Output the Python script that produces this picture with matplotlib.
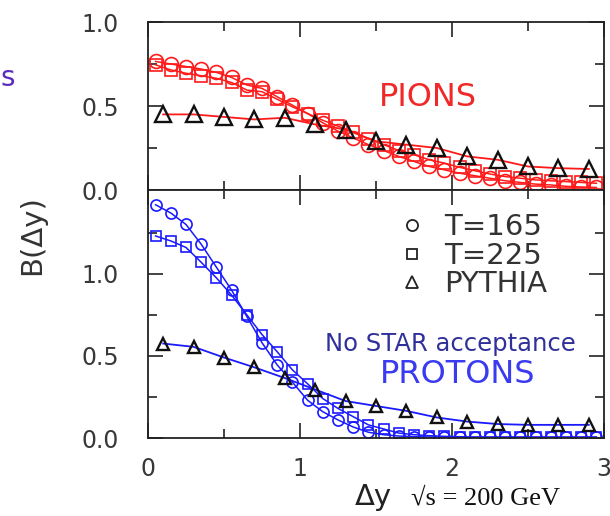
import matplotlib
matplotlib.use("Agg")
import matplotlib.pyplot as plt
from matplotlib.lines import Line2D
from matplotlib.ticker import MultipleLocator, FixedLocator

# x positions of the model points (T=165, T=225) and of the PYTHIA points
dy_fine = [0.05, 0.15, 0.25, 0.35, 0.45, 0.55, 0.65, 0.75, 0.85, 0.95,
           1.05, 1.15, 1.25, 1.35, 1.45, 1.55, 1.65, 1.75, 1.85, 1.95,
           2.05, 2.15, 2.25, 2.35, 2.45, 2.55, 2.65, 2.75, 2.85, 2.95]
dy_pythia = [0.1, 0.3, 0.5, 0.7, 0.9, 1.1, 1.3, 1.5, 1.7, 1.9,
             2.1, 2.3, 2.5, 2.7, 2.9]

# pions
pion_t165 = [0.765, 0.75, 0.735, 0.72, 0.70, 0.67, 0.625, 0.605, 0.555, 0.505,
             0.455, 0.40, 0.35, 0.31, 0.27, 0.235, 0.20, 0.17, 0.14, 0.12,
             0.10, 0.085, 0.07, 0.055, 0.045, 0.035, 0.03, 0.022, 0.018, 0.015]
pion_t225 = [0.745, 0.715, 0.695, 0.68, 0.665, 0.64, 0.595, 0.585, 0.54, 0.495,
             0.455, 0.415, 0.38, 0.345, 0.305, 0.27, 0.235, 0.21, 0.18, 0.16,
             0.135, 0.115, 0.095, 0.08, 0.07, 0.06, 0.055, 0.05, 0.045, 0.04]
pion_pythia = [0.45, 0.45, 0.435, 0.42, 0.43, 0.39, 0.36, 0.29, 0.27, 0.25,
               0.20, 0.18, 0.14, 0.13, 0.125]

# protons
proton_t165 = [1.42, 1.37, 1.30, 1.18, 1.04, 0.90, 0.74, 0.58, 0.445, 0.34,
               0.23, 0.16, 0.11, 0.067, 0.035, 0.02, 0.012, 0.008, 0.006, 0.005,
               0.004, 0.004, 0.004, 0.004, 0.004, 0.004, 0.004, 0.004, 0.004, 0.004]
proton_t225 = [1.23, 1.20, 1.16, 1.07, 0.975, 0.87, 0.75, 0.63, 0.525, 0.415,
               0.33, 0.24, 0.18, 0.13, 0.08, 0.055, 0.03, 0.02, 0.014, 0.01,
               0.008, 0.006, 0.006, 0.006, 0.006, 0.006, 0.006, 0.006, 0.006, 0.006]
proton_pythia = [0.575, 0.555, 0.49, 0.43, 0.365, 0.295, 0.225, 0.195, 0.165, 0.125,
                 0.10, 0.085, 0.08, 0.08, 0.08]

legend_labels = ["T=165", "T=225", "PYTHIA"]

RED = "#ff1a1a"
BLUE = "#1a1aff"
TICKCOL = "#383838"

plt.rcParams['font.family'] = ['DejaVu Sans']


def style_axis(ax, ymax, show_xlabels):
    ax.set_xlim(0, 3)
    ax.set_ylim(0, ymax)
    ax.xaxis.set_major_locator(MultipleLocator(1))
    ax.xaxis.set_minor_locator(MultipleLocator(0.5))
    ax.yaxis.set_major_locator(FixedLocator([0.0, 0.5, 1.0]))
    ax.yaxis.set_minor_locator(FixedLocator([0.25, 0.75, 1.25]))
    ax.tick_params(which='both', direction='in', top=True, right=True,
                   width=1.2, colors='#222222', labelcolor=TICKCOL, labelsize=17)
    ax.tick_params(which='major', length=11)
    ax.tick_params(which='minor', length=6.5)
    ax.tick_params(axis='y', pad=21)
    ax.tick_params(axis='x', pad=14)
    ax.yaxis.set_major_formatter(lambda v, p: "%.1f" % v)
    if not show_xlabels:
        ax.tick_params(axis='x', labelbottom=False)
    for s in ax.spines.values():
        s.set_linewidth(1.3)
        s.set_color('#222222')


def draw_species(ax, c, t165, t225, pyth, ms, tms):
    ax.plot(dy_fine, t165, '-', color=c, lw=1.1, marker='o', ms=ms,
            mfc='none', mec=c, mew=1.2)
    ax.plot(dy_fine, t225, '-', color=c, lw=1.1, marker='s', ms=ms - 1,
            mfc='none', mec=c, mew=1.2)
    ax.plot(dy_pythia, pyth, '-', color=c, lw=1.3)
    ax.plot(dy_pythia, pyth, 'none', marker='^', ms=tms, mfc='none',
            mec='#111111', mew=1.7)


def main():
    fig = plt.figure(figsize=(6.1, 5.16), dpi=100)
    left, right = 148 / 610, 604 / 610
    top = 1 - 22 / 516
    mid = 1 - 190 / 516
    bot = 1 - 438 / 516
    ax1 = fig.add_axes([left, mid, right - left, top - mid])
    ax2 = fig.add_axes([left, bot, right - left, mid - bot])

    draw_species(ax1, RED, pion_t165, pion_t225, pion_pythia, 10, 11.5)
    draw_species(ax2, BLUE, proton_t165, proton_t225, proton_pythia, 8, 8.5)

    style_axis(ax1, 1.0, False)
    style_axis(ax2, 1.51, True)

    ax1.text(1.84, 0.55, "PIONS", color="#f02828", fontsize=23,
             ha='center', va='center')
    ax2.text(1.99, 0.57, "No STAR acceptance", color="#30309a", fontsize=17.5,
             ha='center', va='center')
    ax2.text(2.04, 0.385, "PROTONS", color="#3a3af0", fontsize=23,
             ha='center', va='center')

    handles = [Line2D([], [], ls='none', marker='o', ms=8, mfc='none', mec='#222222', mew=1.3),
               Line2D([], [], ls='none', marker='s', ms=7.5, mfc='none', mec='#222222', mew=1.3),
               Line2D([], [], ls='none', marker='^', ms=8, mfc='none', mec='#222222', mew=1.3)]
    leg = ax2.legend(handles, legend_labels, loc='upper left', bbox_to_anchor=(0.515, 0.965),
                     frameon=False, fontsize=21, handlelength=1.0, handletextpad=0.6,
                     labelspacing=0.02, borderpad=0)
    for t in leg.get_texts():
        t.set_color('#333333')

    fig.text(32 / 610, 1 - 235 / 516, "B(Δy)", rotation=90, fontsize=21,
             color='#333333', ha='center', va='center')
    fig.text(373 / 610, 1 - 497 / 516, "Δy", fontsize=21, color='#222222',
             ha='center', va='center')
    fig.text(411 / 610, 1 - 498 / 516, "√s = 200 GeV", fontsize=19, color='#111111',
             ha='left', va='center', family=['Liberation Serif', 'DejaVu Serif'])
    fig.text(0.001, 1 - 78 / 516, "s", fontsize=20, color='#5a2bc0',
             ha='left', va='center')

    fig.savefig("out.png", dpi=100)


if __name__ == '__main__':
    main()
